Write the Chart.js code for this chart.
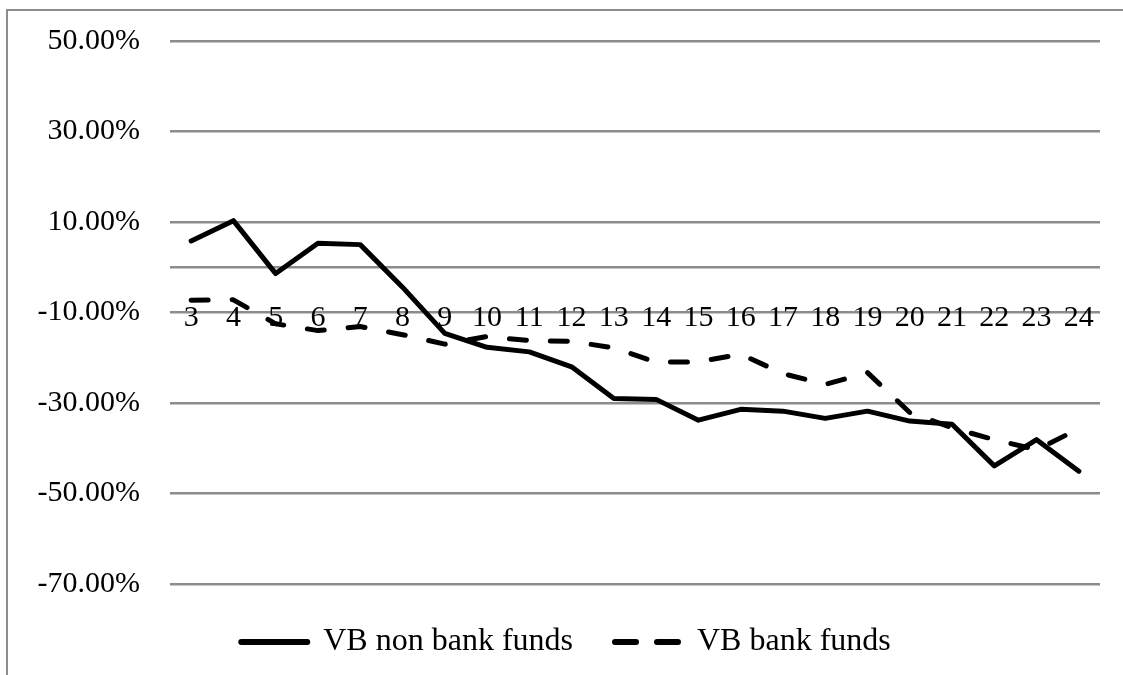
<!DOCTYPE html>
<html>
<head>
<meta charset="utf-8">
<script src="https://cdn.jsdelivr.net/npm/chart.js@4/dist/chart.umd.min.js"></script>
<style>
  html, body { margin: 0; padding: 0; background: #fff; }
  #wrap { position: relative; width: 1123px; height: 675px; overflow: hidden; }
  #frame { position: absolute; left: 6px; top: 9px; width: 1200px; height: 700px;
           border-top: 2px solid #8c8c8c; border-left: 2px solid #8c8c8c; }
  canvas { position: absolute; left: 0; top: 0; }
</style>
</head>
<body>
<div id="wrap">
  <div id="frame"></div>
  <canvas id="c" width="1123" height="675"></canvas>
</div>
<script>
const categories = ['3','4','5','6','7','8','9','10','11','12','13','14','15','16','17','18','19','20','21','22','23','24'];
const nonBankFunds = [5.8, 10.3, -1.4, 5.3, 5.0, -4.4, -14.6, -17.7, -18.7, -22.0, -29.0, -29.2, -33.8, -31.4, -31.8, -33.4, -31.8, -34.0, -34.7, -43.9, -38.1, -45.1];
const bankFunds = [-7.3, -7.2, -12.5, -14.0, -13.1, -14.9, -17.0, -15.3, -16.2, -16.4, -17.8, -21.0, -20.9, -19.2, -23.5, -25.9, -23.3, -32.1, -35.5, -38.1, -40.3, -35.7];
const seriesNames = ['VB non bank funds', 'VB bank funds'];
const yTickLabels = [50, 30, 10, -10, -30, -50, -70];
const yGridValues = [50, 30, 10, 0, -10, -30, -50, -70];
const legendDashes = [[], [21, 21]];

const serif = '"Liberation Serif", "Times New Roman", serif';

new Chart(document.getElementById('c'), {
  type: 'line',
  data: {
    labels: categories,
    datasets: [
      {
        label: seriesNames[0],
        data: nonBankFunds,
        borderColor: '#000',
        backgroundColor: '#000',
        borderWidth: 5,
        pointRadius: 0,
        tension: 0,
        borderJoinStyle: 'round',
        borderCapStyle: 'round'
      },
      {
        label: seriesNames[1],
        data: bankFunds,
        borderColor: '#000',
        backgroundColor: '#000',
        borderWidth: 5,
        borderDash: [17, 24],
        pointRadius: 0,
        tension: 0,
        borderJoinStyle: 'round',
        borderCapStyle: 'round'
      }
    ]
  },
  options: {
    responsive: false,
    animation: false,
    layout: { padding: { left: 32, right: 23, top: 41, bottom: 7 } },
    plugins: {
      tooltip: { enabled: false },
      legend: {
        position: 'bottom',
        labels: {
          usePointStyle: true,
          pointStyle: 'line',
          pointStyleWidth: 66,
          padding: 42,
          color: '#000',
          font: { family: serif, size: 32 },
          generateLabels: (chart) => {
            const items = Chart.defaults.plugins.legend.labels.generateLabels(chart);
            items.forEach((it, i) => {
              it.lineDash = legendDashes[i];
              it.lineWidth = 6;
              it.lineCap = 'round';
              it.strokeStyle = '#000';
              it.fillStyle = '#000';
            });
            return items;
          }
        }
      }
    },
    scales: {
      x: {
        position: { y: -10 },
        offset: true,
        grid: { display: false, drawTicks: false },
        border: { display: false },
        ticks: {
          color: '#000',
          padding: -12,
          maxRotation: 0,
          autoSkip: false,
          font: { family: serif, size: 30 }
        }
      },
      y: {
        min: -70,
        max: 50,
        afterFit: (s) => { s.width = 138; },
        border: { display: false },
        grid: {
          drawTicks: true,
          tickLength: 25,
          tickColor: 'rgba(0,0,0,0)',
          lineWidth: 2.5,
          color: (ctx) => yGridValues.includes(Math.round(ctx.tick.value)) ? '#8c8c8c' : 'rgba(0,0,0,0)'
        },
        ticks: {
          stepSize: 10,
          padding: 5,
          color: '#000',
          font: { family: serif, size: 30 },
          callback: (v) => yTickLabels.includes(Math.round(v)) ? v.toFixed(2) + '%' : ''
        }
      }
    }
  }
});
</script>
</body>
</html>
